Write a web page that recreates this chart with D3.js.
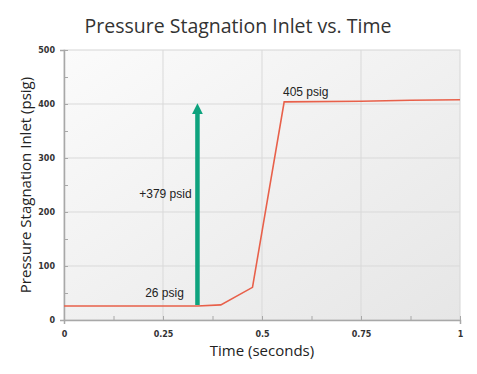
<!DOCTYPE html>
<html>
<head>
<meta charset="utf-8">
<script src="https://cdn.jsdelivr.net/npm/d3@7"></script>
<style>
body { margin: 0; background: #fff; }
</style>
</head>
<body>
<svg id="chart" width="477" height="374"></svg>
<script>
// pressure trace
var times = [0, 0.337, 0.396, 0.476, 0.556, 0.75, 0.875, 1];
var pressures = [26, 26, 28, 60.5, 404, 405, 407, 408];
var xTicks = [0, 0.25, 0.5, 0.75, 1];
var yTicks = [0, 100, 200, 300, 400, 500];
var arrowTime = 0.337, arrowFrom = 28, arrowTo = 408;
var notes = [
    {t: 0.205, p: 43, text: "26 psig"},
    {t: 0.553, p: 415, text: "405 psig"},
    {t: 0.19, p: 226, text: "+379 psid"}
];

var svg = d3.select("#chart"),
        margin = {top: 50, right: 17, bottom: 54, left: 64},
        width = +svg.attr("width") - margin.left - margin.right,
        height = +svg.attr("height") - margin.top - margin.bottom;

var x = d3.scaleLinear().domain([0, 1]).range([0, width]);
var y = d3.scaleLinear().domain([0, 500]).range([height, 0]);

var defs = svg.append("defs");
var grad = defs.append("linearGradient")
        .attr("id", "bg")
        .attr("x1", "0").attr("y1", "0").attr("x2", "1").attr("y2", "1");
grad.append("stop").attr("offset", "0").attr("stop-color", "#fbfbfb");
grad.append("stop").attr("offset", "1").attr("stop-color", "#e6e6e6");

defs.append("marker")
        .attr("id", "head")
        .attr("viewBox", "0 0 10 10")
        .attr("refX", 5).attr("refY", 5)
        .attr("markerWidth", 2.4).attr("markerHeight", 2.5)
        .attr("markerUnits", "strokeWidth")
        .attr("orient", "auto")
        .append("path")
        .attr("d", "M0,0 L10,5 L0,10 Z")
        .attr("fill", "#0ea37e");

svg.append("text")
        .attr("x", 238).attr("y", 33)
        .attr("text-anchor", "middle")
        .attr("font-family", "Open Sans, sans-serif")
        .attr("font-size", 19.5)
        .attr("fill", "#333")
        .text("Pressure Stagnation Inlet vs. Time");

var g = svg.append("g")
        .attr("transform", "translate(" + margin.left + "," + margin.top + ")");

g.append("rect")
        .attr("width", width)
        .attr("height", height)
        .attr("fill", "url(#bg)")
        .attr("stroke", "#d6d6d6");

// grid
g.append("g").selectAll("line")
        .data(xTicks.slice(1, -1))
        .enter().append("line")
        .attr("x1", x).attr("x2", x)
        .attr("y1", 0).attr("y2", height)
        .attr("stroke", "#d9d9d9");
g.append("g").selectAll("line")
        .data(yTicks.slice(1, -1))
        .enter().append("line")
        .attr("y1", y).attr("y2", y)
        .attr("x1", 0).attr("x2", width)
        .attr("stroke", "#d9d9d9");

var xAxis = g.append("g")
        .attr("transform", "translate(0," + height + ")")
        .call(d3.axisBottom(x).tickValues(d3.range(0, 1.0001, 0.125)).tickSize(4).tickPadding(6)
                .tickFormat(function (d) { return xTicks.indexOf(d) >= 0 ? d3.format("")(d) : ""; }));
var yAxis = g.append("g")
        .call(d3.axisLeft(y).tickValues(d3.range(0, 501, 50)).tickSize(4).tickPadding(5)
                .tickFormat(function (d) { return yTicks.indexOf(d) >= 0 ? d : ""; }));

[xAxis, yAxis].forEach(function (a) {
    a.select(".domain").attr("stroke", "#a8a8a8").attr("stroke-width", 1.5);
    a.selectAll(".tick line").attr("stroke", "#a8a8a8");
    a.selectAll(".tick text")
            .attr("font-family", "DejaVu Sans, sans-serif")
            .attr("font-size", 8)
            .attr("font-weight", "bold")
            .attr("fill", "#333");
});
xAxis.selectAll(".tick line").attr("y1", -4).attr("y2", 0);
yAxis.selectAll(".tick line").attr("x1", 4).attr("x2", 0);
xAxis.selectAll(".tick text").attr("dy", "0.9em");

var line = d3.line()
        .x(function (d, i) { return x(times[i]); })
        .y(function (d) { return y(d); });

g.append("path")
        .datum(pressures)
        .attr("d", line)
        .attr("fill", "none")
        .attr("stroke", "#e8604a")
        .attr("stroke-width", 1.6);

g.append("line")
        .attr("x1", x(arrowTime)).attr("x2", x(arrowTime))
        .attr("y1", y(arrowFrom)).attr("y2", y(arrowTo) + 9)
        .attr("stroke", "#0ea37e")
        .attr("stroke-width", 4.5)
        .attr("marker-end", "url(#head)");

g.selectAll(".note")
        .data(notes)
        .enter().append("text")
        .attr("class", "note")
        .attr("x", function (d) { return x(d.t); })
        .attr("y", function (d) { return y(d.p); })
        .attr("font-family", "Liberation Sans, Arial, sans-serif")
        .attr("font-size", 12)
        .attr("fill", "#222")
        .text(function (d) { return d.text; });

svg.append("text")
        .attr("x", margin.left + width / 2).attr("y", 356)
        .attr("text-anchor", "middle")
        .attr("font-family", "Open Sans, sans-serif")
        .attr("font-size", 15)
        .attr("fill", "#222")
        .text("Time (seconds)");

svg.append("text")
        .attr("transform", "translate(31," + (margin.top + height / 2) + ") rotate(-90)")
        .attr("text-anchor", "middle")
        .attr("font-family", "Open Sans, sans-serif")
        .attr("font-size", 15)
        .attr("fill", "#222")
        .text("Pressure Stagnation Inlet (psig)");
</script>
</body>
</html>
